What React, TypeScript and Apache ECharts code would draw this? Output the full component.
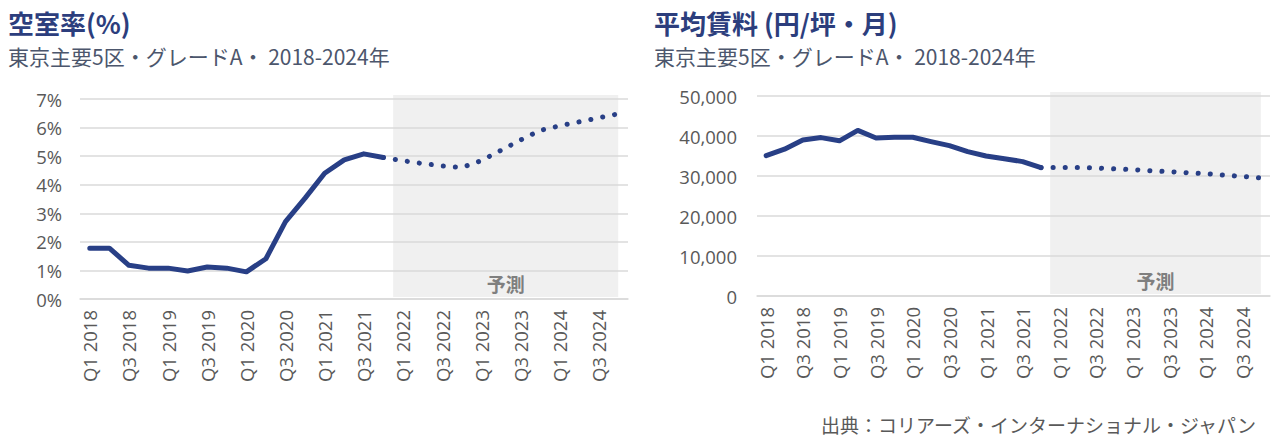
import React, { useEffect, useRef } from "react";
import * as echarts from "echarts";

const quarters = [
  "Q1 2018", "Q2 2018", "Q3 2018", "Q4 2018",
  "Q1 2019", "Q2 2019", "Q3 2019", "Q4 2019",
  "Q1 2020", "Q2 2020", "Q3 2020", "Q4 2020",
  "Q1 2021", "Q2 2021", "Q3 2021", "Q4 2021",
  "Q1 2022", "Q2 2022", "Q3 2022", "Q4 2022",
  "Q1 2023", "Q2 2023", "Q3 2023", "Q4 2023",
  "Q1 2024", "Q2 2024", "Q3 2024", "Q4 2024",
];

// Actual values Q1 2018 .. Q4 2021
const vacancyActual = [1.78, 1.78, 1.18, 1.08, 1.08, 0.98, 1.12, 1.08, 0.95, 1.41, 2.71, 3.53, 4.4, 4.87, 5.08, 4.95];
// Forecast values Q4 2021 .. Q4 2024
const vacancyForecast = [4.95, 4.84, 4.74, 4.66, 4.6, 4.84, 5.2, 5.56, 5.9, 6.06, 6.2, 6.34, 6.48];

const rentActual = [35100, 36700, 39000, 39600, 38800, 41400, 39500, 39700, 39700, 38600, 37600, 36100, 35000, 34300, 33600, 32100];
const rentForecast = [32100, 32100, 32100, 32000, 31800, 31600, 31300, 31100, 30800, 30600, 30200, 29900, 29500];

const vacancyTicks = { min: 0, max: 7, interval: 1 };
const rentTicks = { min: 0, max: 50000, interval: 10000 };

const forecastStart = "Q1 2022";
const forecastEnd = "Q4 2024";

const titleLeft = "空室率(%)";
const titleRight = "平均賃料 (円/坪・月)";
const subtitle = "東京主要5区・グレードA・ 2018-2024年";
const forecastLabel = "予測";
const sourceText = "出典：コリアーズ・インターナショナル・ジャパン";

const LINE = "#283f86";
const GRID = "#dadada";
const AXIS_TEXT = "#595959";
const CJK = "'Noto Sans CJK JP', 'Noto Sans', sans-serif";
const NUM = "'Open Sans', 'Noto Sans', sans-serif";

function pad(actual: number[], forecast: number[]) {
  const a = quarters.map((_, i) => (i < actual.length ? actual[i] : "-"));
  const off = actual.length - 1;
  const f = quarters.map((_, i) => (i >= off && i - off < forecast.length ? forecast[i - off] : "-"));
  return { a, f };
}

export default function App() {
  const ref = useRef<HTMLDivElement>(null);
  useEffect(() => {
    document.body.style.margin = "0";
    const chart = echarts.init(ref.current!, null, { renderer: "svg" });
    const v = pad(vacancyActual, vacancyForecast);
    const r = pad(rentActual, rentForecast);

    const xAxisBase = (gridIndex: number) => ({
      type: "category",
      gridIndex,
      data: quarters,
      boundaryGap: true,
      axisTick: { show: false },
      axisLine: { show: true, lineStyle: { color: GRID, width: 1.5 } },
      axisLabel: {
        interval: 1,
        rotate: 90,
        margin: 11,
        color: AXIS_TEXT,
        fontSize: 18.5,
        fontFamily: NUM,
      },
    });

    const solid = { color: LINE, width: 5, cap: "round", join: "round" };
    const dotted = { color: LINE, width: 5, cap: "round", type: [0.1, 12] };

    chart.setOption({
      animation: false,
      grid: [
        { left: 80, top: 99, width: 548, height: 200 },
        { left: 757, top: 96, width: 513, height: 200 },
      ],
      xAxis: [xAxisBase(0), xAxisBase(1)],
      yAxis: [
        {
          type: "value",
          gridIndex: 0,
          ...vacancyTicks,
          axisLine: { show: false },
          axisTick: { show: false },
          splitLine: { lineStyle: { color: GRID, width: 1.5 } },
          axisLabel: { formatter: "{value}%", color: AXIS_TEXT, fontSize: 18.5, fontFamily: NUM, margin: 18 },
        },
        {
          type: "value",
          gridIndex: 1,
          ...rentTicks,
          axisLine: { show: false },
          axisTick: { show: false },
          splitLine: { lineStyle: { color: GRID, width: 1.5 } },
          axisLabel: {
            formatter: (val: number) => val.toLocaleString("en-US"),
            color: AXIS_TEXT,
            fontSize: 18.5,
            fontFamily: NUM,
            margin: 20,
          },
        },
      ],
      series: [
        { type: "line", xAxisIndex: 0, yAxisIndex: 0, data: v.a, showSymbol: false, lineStyle: solid, z: 3 },
        { type: "line", xAxisIndex: 0, yAxisIndex: 0, data: v.f, showSymbol: false, lineStyle: dotted, z: 3 },
        { type: "line", xAxisIndex: 1, yAxisIndex: 1, data: r.a, showSymbol: false, lineStyle: solid, z: 3 },
        { type: "line", xAxisIndex: 1, yAxisIndex: 1, data: r.f, showSymbol: false, lineStyle: dotted, z: 3 },
      ],
    });

    const rectFor = (xi: number, yi: number, ymax: number) => {
      const p0 = chart.convertToPixel({ xAxisIndex: xi }, forecastStart) as number;
      const p1 = chart.convertToPixel({ xAxisIndex: xi }, quarters[quarters.indexOf(forecastStart) + 1]) as number;
      const pe = chart.convertToPixel({ xAxisIndex: xi }, forecastEnd) as number;
      const yt = chart.convertToPixel({ yAxisIndex: yi }, ymax) as number;
      const yb = chart.convertToPixel({ yAxisIndex: yi }, 0) as number;
      const x0 = p0 - (p1 - p0) / 2;
      const x1 = pe;
      return [
        {
          type: "rect",
          z: -1,
          shape: { x: x0, y: yt - 4, width: x1 - x0, height: yb - yt + 2 },
          style: { fill: "#f0f0f0" },
          silent: true,
        },
        {
          type: "text",
          z: 1,
          x: (x0 + x1) / 2,
          y: yb - 16,
          style: {
            text: forecastLabel,
            fill: "#7f7f7f",
            font: `bold 19px ${CJK}`,
            align: "center",
            verticalAlign: "middle",
          },
        },
      ];
    };

    chart.setOption({
      graphic: {
        elements: [
          ...rectFor(0, 0, vacancyTicks.max),
          ...rectFor(1, 1, rentTicks.max),
          { type: "text", x: 8, y: 22, style: { text: titleLeft, fill: "#2c3e7d", font: `bold 26px ${CJK}`, verticalAlign: "middle" } },
          { type: "text", x: 8, y: 56, style: { text: subtitle, fill: "#4c566c", font: `21px ${CJK}`, verticalAlign: "middle" } },
          { type: "text", x: 654, y: 22, style: { text: titleRight, fill: "#2c3e7d", font: `bold 26px ${CJK}`, verticalAlign: "middle" } },
          { type: "text", x: 654, y: 56, style: { text: subtitle, fill: "#4c566c", font: `21px ${CJK}`, verticalAlign: "middle" } },
          { type: "text", x: 1256, y: 424, style: { text: sourceText, fill: AXIS_TEXT, font: `19px ${CJK}`, align: "right", verticalAlign: "middle" } },
        ],
      },
    });

    return () => chart.dispose();
  }, []);
  return <div ref={ref} style={{ width: 1277, height: 447 }} />;
}
